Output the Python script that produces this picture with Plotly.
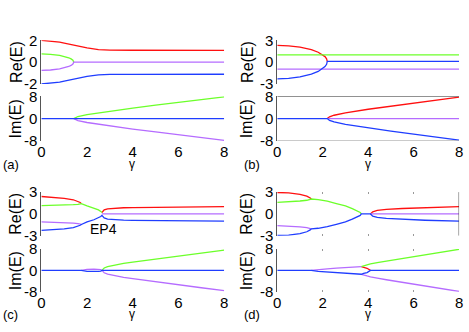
"""Re(E) / Im(E) vs gamma, four panels (a)-(d)."""
import plotly.graph_objects as go

# ---- data ------------------------------------------------------------------
# None marks stretches where a branch lies under another one drawn later
N = None

# panel (a)
G_A = [0, 0.4, 0.8, 1.0, 1.2, 1.3, 1.38, 1.42, 1.6, 2.0, 2.5, 3, 4, 5, 6, 7, 8]
A_RED_RE = [2.0, 1.95, 1.84, 1.75, 1.66, 1.61, 1.56, 1.54, 1.45, 1.3, 1.15, 1.1, 1.09, 1.08, 1.08, 1.08, 1.08]
A_GREEN_RE = [0.75, 0.72, 0.62, 0.53, 0.40, 0.30, 0.18, 0, N, N, N, N, N, N, N, N, N]
A_PURPLE_RE = [-0.75, -0.72, -0.62, -0.53, -0.40, -0.30, -0.18, 0, 0, 0, 0, 0, 0, 0, 0, 0, 0]
A_BLUE_RE = [-2.0, -1.95, -1.84, -1.75, -1.66, -1.61, -1.56, -1.54, -1.45, -1.3, -1.17, -1.13, -1.12, -1.11, -1.11, -1.11, -1.11]
A_RED_IM = [N] * 17
A_GREEN_IM = [N, N, N, N, N, N, N, 0, 0.75, 1.4, 2.05, 2.65, 3.75, 4.8, 5.85, 6.85, 7.8]
A_PURPLE_IM = [N, N, N, N, N, N, N, 0, -0.75, -1.4, -2.05, -2.65, -3.75, -4.8, -5.85, -6.85, -7.8]
A_BLUE_IM = [0] * 17

# panel (b)
G_B = [0, 0.5, 1.0, 1.5, 1.8, 2.0, 2.1, 2.17, 2.2, 2.3, 2.5, 3, 4, 5, 6, 7, 8]
B_RED_RE = [2.3, 2.24, 2.06, 1.71, 1.36, 1.02, 0.76, 0.46, 0.1, N, N, N, N, N, N, N, N]
B_GREEN_RE = [1.0] * 17
B_PURPLE_RE = [-0.95] * 17
B_BLUE_RE = [-2.3, -2.24, -2.04, -1.66, -1.28, -0.9, -0.62, -0.3, 0.1, 0.1, 0.1, 0.1, 0.1, 0.1, 0.1, 0.1, 0.1]
B_RED_IM = [N, N, N, N, N, N, N, N, 0, 0.65, 1.2, 2.05, 3.35, 4.5, 5.6, 6.7, 7.7]
B_GREEN_IM = [N] * 17
B_PURPLE_IM = [N, N, N, N, N, N, N, N, 0, 0, 0, 0, 0, 0, 0, 0, 0]
B_BLUE_IM = [0, 0, 0, 0, 0, 0, 0, 0, 0, -0.65, -1.2, -2.05, -3.35, -4.5, -5.6, -6.7, -7.7]

# panel (c)
G_C = [0, 0.5, 1.0, 1.4, 1.6, 1.7, 1.75, 2.0, 2.3, 2.5, 2.6, 2.65, 2.75, 2.9, 3.2, 3.6, 4, 5, 6, 7, 8]
C_RED_RE = [2.4, 2.32, 2.15, 1.95, 1.75, 1.58, 1.42, N, N, N, N, 0.2,
            0.55, 0.7, 0.8, 0.85, 0.88, 0.93, 0.96, 0.98, 1.0]
C_GREEN_RE = [1.15, 1.17, 1.22, 1.27, 1.32, 1.36, 1.42, 1.1, 0.8, 0.55, 0.35, 0.2,
              N, N, N, N, N, N, N, N, N]
C_PURPLE_RE = [-1.1, -1.12, -1.17, -1.25, -1.33, -1.39, -1.45, N, N, N, N, 0,
               0, 0, 0, 0, 0, 0, 0, 0, 0]
C_BLUE_RE = [-2.25, -2.2, -2.05, -1.88, -1.7, -1.56, -1.45, -1.1, -0.8, -0.55, -0.35, -0.2,
             -0.55, -0.7, -0.8, -0.85, -0.88, -0.93, -0.96, -0.98, -1.0]
C_RED_IM = [N] * 21
C_GREEN_IM = [N, N, N, N, N, N, N, N, N, N, N, 0,
              0.9, 1.4, 2.0, 2.6, 3.1, 4.3, 5.4, 6.5, 7.6]
C_PURPLE_IM = [N, N, N, N, N, N, 0, 0.35, 0.45, 0.4, 0.25, 0,
               -0.9, -1.4, -2.0, -2.6, -3.1, -4.3, -5.4, -6.5, -7.6]
C_BLUE_IM = [0, 0, 0, 0, 0, 0, 0, -0.35, -0.45, -0.4, -0.25, 0,
             0, 0, 0, 0, 0, 0, 0, 0, 0]

# panel (d)  (3.7 repeated so two branches can break there)
G_D = [0, 0.5, 1.0, 1.3, 1.45, 1.5, 1.8, 2.2, 2.6, 3.0, 3.3, 3.5, 3.65, 3.7, 3.7, 3.7,
       3.8, 3.95, 4.1, 4.2, 4.4, 4.8, 5.5, 6.5, 8]
D_RED_RE = [2.95, 2.9, 2.7, 2.45, 2.2, 2.05, N, N, N, N, N, N, N, N, N, N,
            N, N, 0, 0.3, 0.48, 0.62, 0.75, 0.87, 1.0]
D_GREEN_RE = [1.6, 1.65, 1.78, 1.88, 1.98, 2.05, 1.97, 1.75, 1.42, 1.1, 0.72, 0.42, 0.2, 0, N, N,
              N, N, N, N, N, N, N, N, N]
D_PURPLE_RE = [-1.6, -1.65, -1.78, -1.88, -1.98, -2.05, N, N, N, N, N, N, N, N, N, N,
               N, N, 0, 0, 0, 0, 0, 0, 0]
D_BLUE_RE = [-2.95, -2.9, -2.7, -2.45, -2.2, -2.05, -1.97, -1.75, -1.42, -1.1, -0.72, -0.42, -0.2, 0, 0, 0,
             0, 0, 0, -0.3, -0.48, -0.62, -0.75, -0.87, -1.0]
D_RED_IM = [N, N, N, N, N, N, N, N, N, N, N, N, N, N, N, 1.45,
            1.15, 0.8, 0, N, N, N, N, N, N]
D_GREEN_IM = [N, N, N, N, N, N, N, N, N, N, N, N, N, 1.45, 1.45, 1.45,
              1.8, 2.1, 2.4, 2.6, 2.9, 3.5, 4.5, 5.9, 7.9]
D_PURPLE_IM = [N, N, N, N, N, 0, 0.35, 0.6, 0.85, 1.05, 1.2, 1.3, 1.4, 1.45, N, -1.45,
               -1.8, -2.1, -2.4, -2.6, -2.9, -3.5, -4.5, -5.9, -7.9]
D_BLUE_IM = [0, 0, 0, 0, 0, 0, -0.35, -0.6, -0.85, -1.05, -1.2, -1.3, -1.4, -1.45, -1.45, -1.45,
             -1.15, -0.8, 0, 0, 0, 0, 0, 0, 0]

PANEL_LABELS = ["(a)", "(b)", "(c)", "(d)"]
RE_TICKS = [["-2", "0", "2"], ["-3", "0", "3"], ["-3", "0", "3"], ["-3", "0", "3"]]
IM_TICKS = ["-8", "0", "8"]
X_TICKS = ["0", "2", "4", "6", "8"]

COLORS = {"red": "#ff1010", "green": "#6cff2a", "purple": "#b56cff", "blue": "#1f3dff"}

panels = [
    (G_A, [A_RED_RE, A_GREEN_RE, A_PURPLE_RE, A_BLUE_RE], [A_RED_IM, A_GREEN_IM, A_PURPLE_IM, A_BLUE_IM]),
    (G_B, [B_RED_RE, B_GREEN_RE, B_PURPLE_RE, B_BLUE_RE], [B_RED_IM, B_GREEN_IM, B_PURPLE_IM, B_BLUE_IM]),
    (G_C, [C_RED_RE, C_GREEN_RE, C_PURPLE_RE, C_BLUE_RE], [C_RED_IM, C_GREEN_IM, C_PURPLE_IM, C_BLUE_IM]),
    (G_D, [D_RED_RE, D_GREEN_RE, D_PURPLE_RE, D_BLUE_RE], [D_RED_IM, D_GREEN_IM, D_PURPLE_IM, D_BLUE_IM]),
]

# ---- layout geometry (pixels of a 469x332 canvas) --------------------------
W, H = 469, 332
X_DOM = [(38, 224), (278, 463)]          # left / right column
RE_DOM = [(33, 79), (193, 239)]          # top / bottom row, Re(E)
IM_DOM = [(92, 139), (253, 298)]         # top / bottom row, Im(E)
FONT = "Arial, Liberation Sans, sans-serif"


def xd(p):
    return [p[0] / W, p[1] / W]


def yd(p):
    return [1 - p[1] / H, 1 - p[0] / H]


fig = go.Figure()
layout = dict(width=W, height=H, margin=dict(l=0, r=0, t=0, b=0), autosize=False,
              paper_bgcolor="white", plot_bgcolor="white", showlegend=False,
              font=dict(family=FONT, size=15, color="black"))
annotations = []
shapes = []

for i, (g, res, ims) in enumerate(panels):
    col, row = i % 2, i // 2
    k_re, k_im = 2 * i + 1, 2 * i + 2
    for k, vals in ((k_re, res), (k_im, ims)):
        for name, ys in zip(COLORS, vals):
            fig.add_trace(go.Scatter(x=g, y=ys, mode="lines", connectgaps=False,
                                     line=dict(color=COLORS[name], width=1.3),
                                     xaxis=f"x{k}", yaxis=f"y{k}", hoverinfo="skip"))
    re_lim = int(RE_TICKS[i][2])
    # panel (d) shows faint dotted tick marks along its top and bottom edges
    tick_dots = dict(ticks="inside", ticklen=2, tickwidth=1, tickcolor="#999999",
                     mirror="ticks") if i == 3 else dict(ticks="")
    for k, dom, lim, ticks, show_x in ((k_re, RE_DOM[row], re_lim, RE_TICKS[i], False),
                                        (k_im, IM_DOM[row], 8, IM_TICKS, True)):
        layout[f"xaxis{k}"] = dict(domain=xd(X_DOM[col]), range=[0, 8], anchor=f"y{k}",
                                   showgrid=False, zeroline=False, showline=False,
                                   tickvals=[0, 2, 4, 6, 8], ticktext=X_TICKS,
                                   showticklabels=show_x,
                                   ticklabeloverflow="allow", tickfont=dict(size=15),
                                   **tick_dots)
        layout[f"yaxis{k}"] = dict(domain=yd(dom), range=[-lim, lim], anchor=f"x{k}",
                                   showgrid=False, zeroline=False, showline=True,
                                   linecolor="#555555", linewidth=1, ticks="",
                                   tickvals=[-lim, 0, lim], ticktext=ticks,
                                   ticklabeloverflow="allow", tickfont=dict(size=15))
    # axis titles
    xt = (12 if col == 0 else 247) / W
    for txt, dom in (("Re(E)", RE_DOM[row]), ("Im(E)", IM_DOM[row])):
        annotations.append(dict(text=txt, textangle=-90, x=xt, y=1 - (dom[0] + dom[1]) / 2 / H,
                                xref="paper", yref="paper", showarrow=False,
                                font=dict(size=16), xanchor="center", yanchor="middle"))
    base_y = 164 if row == 0 else 322
    annotations.append(dict(text=PANEL_LABELS[i], x=(7 if col == 0 else 252) / W, y=1 - base_y / H,
                            xref="paper", yref="paper", showarrow=False,
                            font=dict(size=13), xanchor="center", yanchor="middle"))
    annotations.append(dict(text="γ", x=(130 if col == 0 else 370) / W, y=1 - (base_y - 1) / H,
                            xref="paper", yref="paper", showarrow=False,
                            font=dict(size=12), xanchor="center", yanchor="middle"))

annotations.append(dict(text="EP4", x=101 / W, y=1 - 232 / H, xref="paper", yref="paper",
                        showarrow=False, font=dict(size=14), xanchor="center", yanchor="middle"))

# stray box edges seen in the reference
shapes.append(dict(type="line", xref="x4", yref="y4", x0=0, x1=8, y0=8, y1=8,
                   line=dict(color="#444444", width=1)))
shapes.append(dict(type="line", xref="x4", yref="y4", x0=0, x1=8, y0=-8, y1=-8,
                   line=dict(color="#aaaaaa", width=1)))
shapes.append(dict(type="line", xref="x7", yref="y7", x0=8, x1=8, y0=-3, y1=3,
                   line=dict(color="#444444", width=1)))

layout["annotations"] = annotations
layout["shapes"] = shapes
fig.update_layout(**layout)
fig.write_html("out.html", config={"displayModeBar": False},
               post_script="document.body.style.margin='0';")
